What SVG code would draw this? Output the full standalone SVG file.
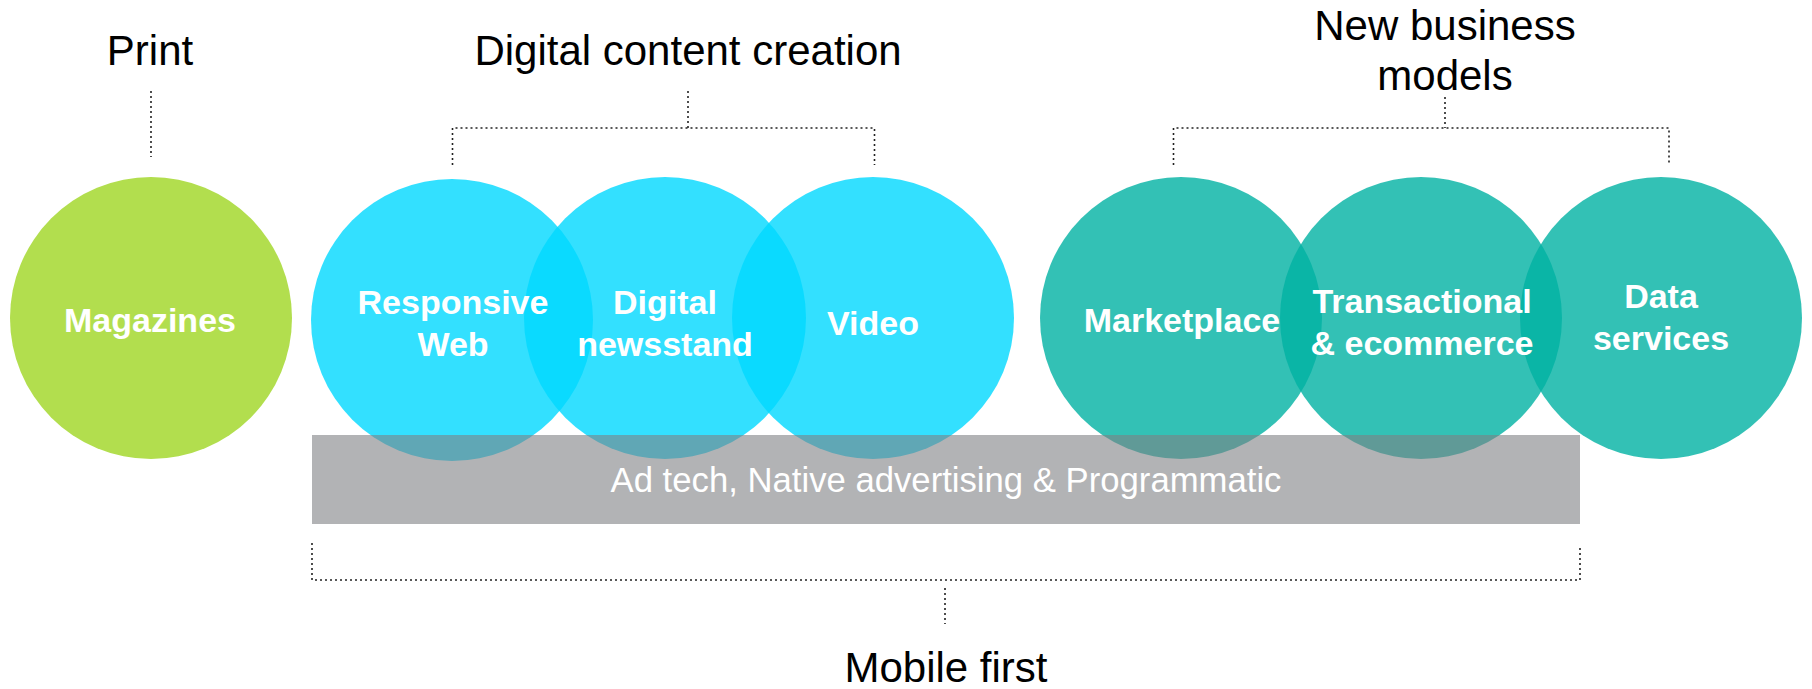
<svg xmlns="http://www.w3.org/2000/svg" width="1812" height="689" viewBox="0 0 1812 689">
<style>
.t{font-family:"Liberation Sans",Arial,sans-serif;fill:#000;font-size:42px;text-anchor:middle}
.n{font-family:"Liberation Sans",Arial,sans-serif;fill:#fff;font-size:34px;font-weight:bold;text-anchor:middle}
.b{font-family:"Liberation Sans",Arial,sans-serif;fill:#fff;font-size:34.7px;text-anchor:middle}
.cy{fill:#00D8FF;fill-opacity:0.8}
.tl{fill:#00B2A2;fill-opacity:0.8}
.d{fill:none;stroke:#222;stroke-width:1.6;stroke-dasharray:2 3}
</style>
<rect width="1812" height="689" fill="#fff"/>
<g id="shapes">
<circle id="magazines" cx="151" cy="318" r="141" fill="#B2DE4E"/>
<circle id="responsive" class="cy" cx="452" cy="320" r="141"/>
<circle id="newsstand" class="cy" cx="665" cy="318" r="141"/>
<circle id="video" class="cy" cx="873" cy="318" r="141"/>
<circle id="marketplace" class="tl" cx="1181" cy="318" r="141"/>
<circle id="transactional" class="tl" cx="1421" cy="318" r="141"/>
<circle id="data" class="tl" cx="1661" cy="318" r="141"/>
</g>
<g id="adtech">
<rect x="312" y="435" width="1268" height="89" fill="#7E8083" fill-opacity="0.6"/>
<text class="b" x="946" y="492">Ad tech, Native advertising &amp; Programmatic</text>
</g>
<g id="labels">
<text class="n" x="150" y="332">Magazines</text>
<text class="n" x="453" y="314">Responsive</text>
<text class="n" x="453" y="356">Web</text>
<text class="n" x="665" y="314">Digital</text>
<text class="n" x="665" y="356">newsstand</text>
<text class="n" x="873" y="335">Video</text>
<text class="n" x="1182" y="332">Marketplace</text>
<text class="n" x="1422" y="313">Transactional</text>
<text class="n" x="1422" y="355">&amp; ecommerce</text>
<text class="n" x="1661" y="308">Data</text>
<text class="n" x="1661" y="350">services</text>
</g>
<g id="headings">
<text class="t" x="150" y="65">Print</text>
<text class="t" x="688" y="65">Digital content creation</text>
<text class="t" x="1445" y="40">New business</text>
<text class="t" x="1445" y="90">models</text>
<text class="t" x="946" y="682">Mobile first</text>
</g>
<g id="connectors">
<line class="d" x1="151" y1="91" x2="151" y2="157"/>
<line class="d" x1="688" y1="91" x2="688" y2="128"/>
<path class="d" d="M452.5 165 V128 H874.5 V165"/>
<line class="d" x1="1445" y1="97" x2="1445" y2="128"/>
<path class="d" d="M1173.5 165 V128 H1669 V165"/>
<path class="d" d="M312 543 V580 H1580 V547"/>
<line class="d" x1="945" y1="588" x2="945" y2="624"/>
</g>
</svg>
